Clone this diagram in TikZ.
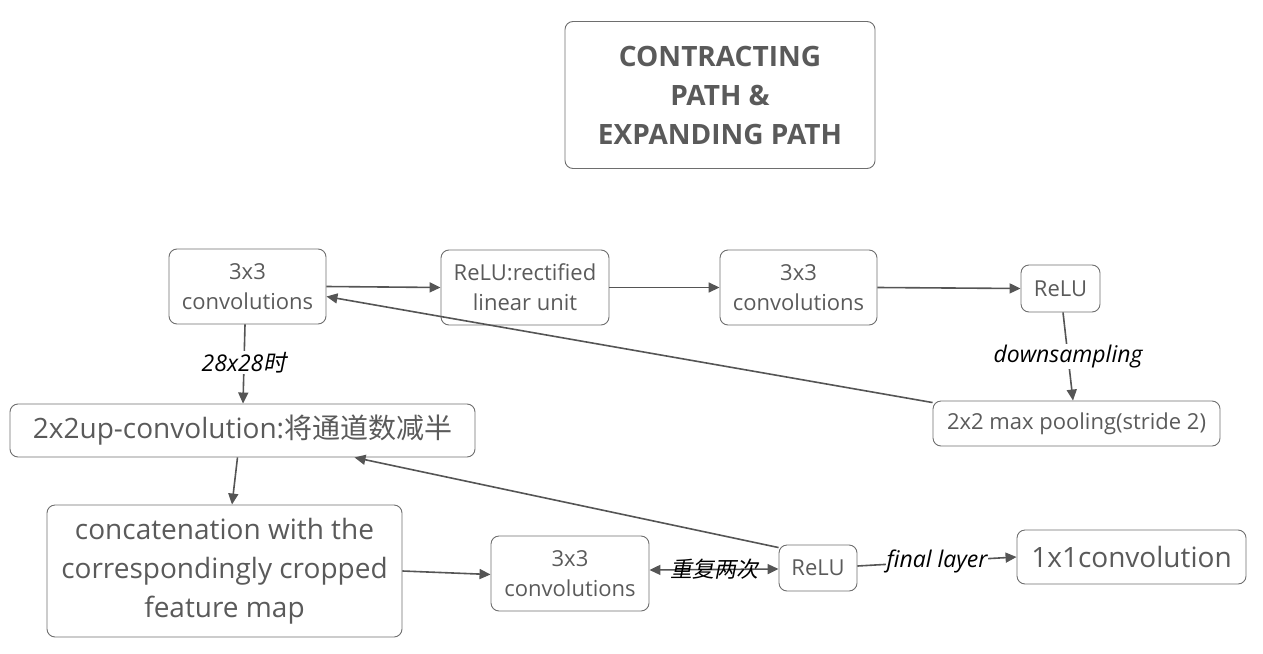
\documentclass[tikz,border=0pt]{standalone}
\usepackage{fontspec}
\setmainfont{Open Sans}
\newfontfamily\cjk{Noto Sans CJK SC}
\newfontfamily\cjkit{Noto Sans CJK SC}[FakeSlant=0.2]
\usetikzlibrary{arrows.meta}
\definecolor{txt}{HTML}{5A5A5A}
\definecolor{ln}{HTML}{555555}
\definecolor{bd}{HTML}{6E6E6E}
\begin{document}
\begin{tikzpicture}[x=1pt,y=-1pt,
 box/.style={draw=bd, line width=0.9pt, rounded corners=8pt, text=txt, align=center, inner sep=0pt, font=\fontsize{22}{30}\selectfont},
 big/.style={font=\fontsize{28}{39}\selectfont},
 arr/.style={draw=ln, line width=1.6pt, -{Triangle[length=11pt,width=10pt]}},
 darr/.style={draw=ln, line width=1.6pt, {Triangle[length=11pt,width=10pt]}-{Triangle[length=11pt,width=10pt]}},
 lab/.style={font=\itshape\fontsize{23}{26}\selectfont, text=black, fill=white, inner sep=1pt}]
\useasboundingbox (0,0) rectangle (1263,653);

\node[box, font=\bfseries\fontsize{28}{39}\selectfont, minimum width=310pt, minimum height=147pt] (title) at (720,95) {CONTRACTING\\PATH \&\\EXPANDING PATH};

\node[box, minimum width=157pt, minimum height=75pt] (conv1) at (247.5,286.5) {3x3\\convolutions};
\node[box, minimum width=168pt, minimum height=75pt] (relu1) at (525,287.5) {ReLU:rectified\\linear unit};
\node[box, minimum width=157pt, minimum height=75pt] (conv2) at (798.5,287.5) {3x3\\convolutions};
\node[box, minimum width=79pt, minimum height=47pt] (relu2) at (1060.5,288.5) {ReLU};
\node[box, minimum width=287pt, minimum height=45pt] (pool) at (1076.5,423.5) {2x2 max pooling(stride 2)};
\node[box, big, minimum width=465pt, minimum height=53pt] (up) at (242.5,430.5) {2x2up-convolution:{\cjk 将通道数减半}};
\node[box, big, minimum width=355pt, minimum height=132pt] (cat) at (224.5,571) {concatenation with the\\correspondingly cropped\\feature map};
\node[box, minimum width=158pt, minimum height=75pt] (conv3) at (570,573.5) {3x3\\convolutions};
\node[box, minimum width=78pt, minimum height=46pt] (relu3) at (818,568) {ReLU};
\node[box, big, minimum width=229pt, minimum height=54pt] (final) at (1131.5,557) {1x1convolution};

\draw[arr] (conv1.east) -- (relu1.west);
\draw[arr] (relu1.east) -- (conv2.west);
\draw[arr] (conv2.east) -- (relu2.west);
\draw[arr] ([xshift=2.5pt]relu2.south) -- node[lab, pos=0.5]{downsampling} ([xshift=-3.5pt]pool.north);
\draw[arr] ([yshift=-2pt]pool.north west) -- ([yshift=-10pt]conv1.east);
\draw[arr] ([xshift=-2.5pt]conv1.south) -- node[lab, pos=0.48]{28x28{\cjkit 时}} ([xshift=0.5pt]up.north);
\draw[arr] ([xshift=-5pt]up.south) -- ([xshift=7.5pt]cat.north);
\draw[arr] (cat.east) -- ([yshift=-1pt]conv3.west);
\draw[darr] ([yshift=3.5pt]conv3.east) -- node[font=\fontsize{22}{26}\selectfont\cjkit, text=black, inner sep=0pt]{重复两次} ([yshift=-1pt]relu3.west);
\draw[arr] ([yshift=-3pt]relu3.north west) -- ([xshift=112pt]up.south);
\draw[arr] ([yshift=2pt]relu3.east) -- node[lab]{final layer} (final.west);
\end{tikzpicture}
\end{document}
